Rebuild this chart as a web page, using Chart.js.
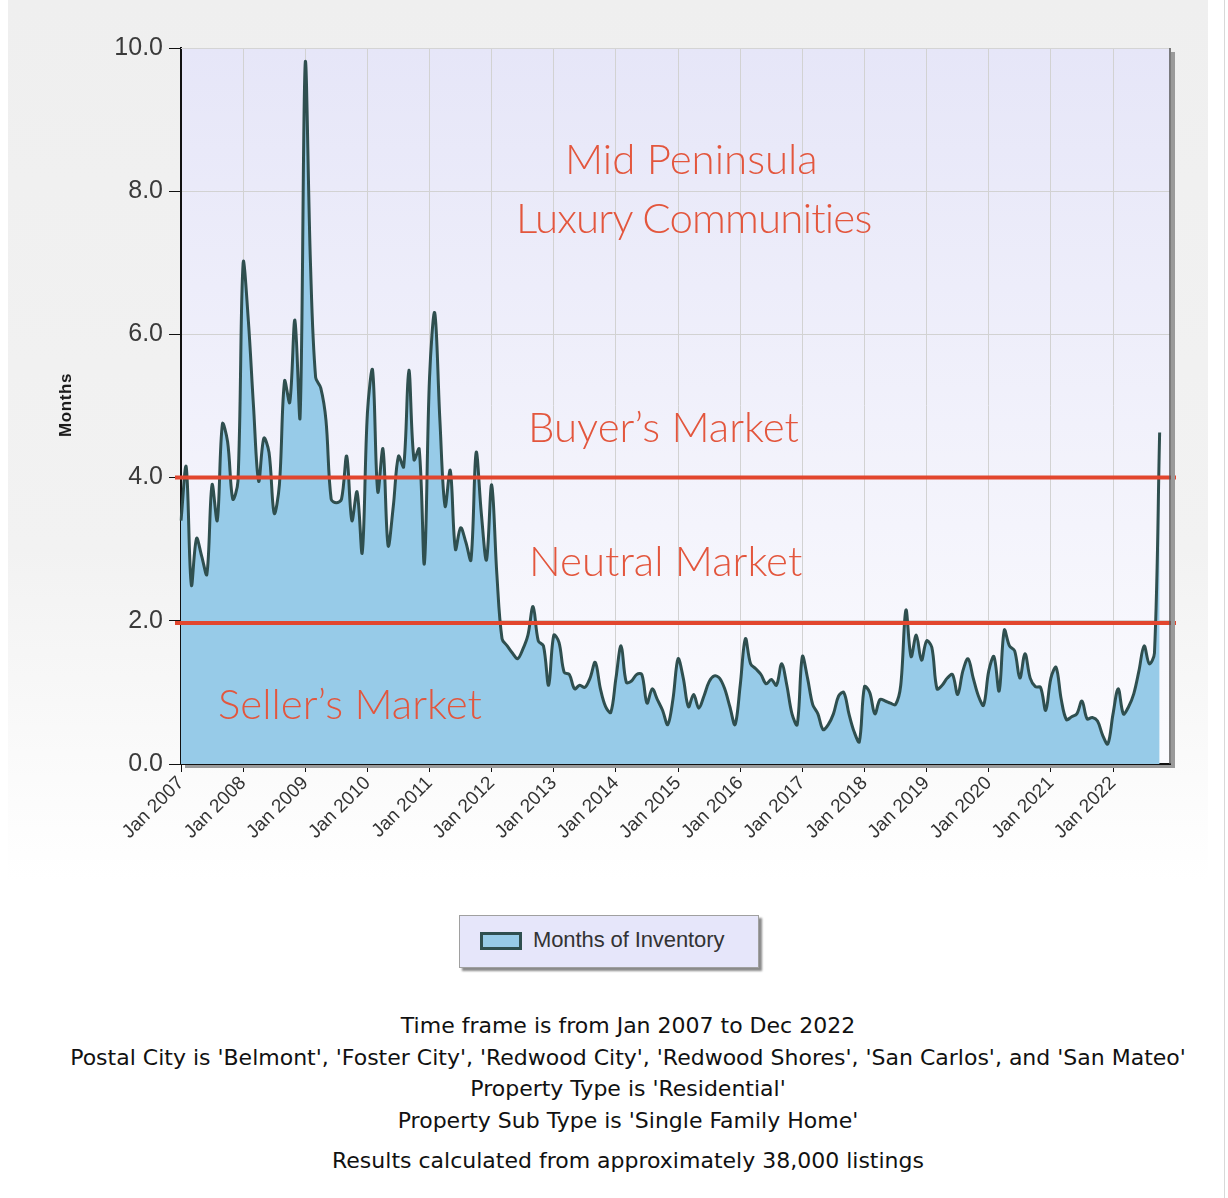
<!DOCTYPE html>
<html>
<head>
<meta charset="utf-8">
<script src="https://cdn.jsdelivr.net/npm/chart.js@4.4.1/dist/chart.umd.min.js"></script>
<style>
  html, body { margin: 0; padding: 0; background: #fff; }
  body { width: 1228px; height: 1198px; position: relative; overflow: hidden; font-family: "Liberation Sans", Arial, sans-serif; }
  #panel { position: absolute; left: 8px; top: 0; width: 1200px; height: 1000px;
    background: linear-gradient(#efefef 0%, #f2f2f2 55%, #ffffff 88%); }
  #edge { position: absolute; left: 1224px; top: 0; width: 1px; height: 1198px; background: #d8d8d8; }
  #chartBox { position: absolute; left: 0; top: 0; width: 1228px; height: 900px; }
  .note { position: absolute; color: #e3563d; font-family: "Lato", sans-serif; font-weight: 300; font-size: 42px; white-space: nowrap; line-height: 1; }
  #ytitle { position: absolute; left: 66px; top: 405px; transform: translate(-50%, -50%) rotate(-90deg); font-size: 17px; font-weight: bold; letter-spacing: 0.6px; color: #1a1a1a; }
  #legend { position: absolute; left: 459px; top: 915px; width: 298px; height: 51px; background: #e6e6fa;
    border: 1px solid #a0a0a0; box-shadow: 3px 3px 2px #8a8a8a; }
  #legend .sw { position: absolute; left: 20px; top: 16px; width: 36px; height: 12px; background: #97cbe8; border: 3px solid #2f4f4f; }
  #legend .txt { position: absolute; left: 73px; top: 11px; font-size: 22px; color: #333; letter-spacing: -0.1px; }
  #footer { position: absolute; left: 0; top: 1010px; width: 1256px; text-align: center; font-family: "DejaVu Sans", Verdana, sans-serif; font-size: 22px; color: #111; line-height: 31.5px; }
  #footer .last { margin-top: 9px; }
</style>
</head>
<body>
<div id="panel"></div>
<div id="edge"></div>
<div id="chartBox"><canvas id="chart" width="1228" height="900"></canvas></div>
<div id="ytitle">Months</div>
<div class="note" style="left:565px; top:137px;">Mid Peninsula</div>
<div class="note" style="left:516px; top:196px; letter-spacing:-0.8px;">Luxury Communities</div>
<div class="note" style="left:528px; top:405px;">Buyer’s Market</div>
<div class="note" style="left:529px; top:539px;">Neutral Market</div>
<div class="note" style="left:218px; top:682px;">Seller’s Market</div>
<div id="legend"><div class="sw"></div><div class="txt">Months of Inventory</div></div>
<div id="footer">
  <div>Time frame is from Jan 2007 to Dec 2022</div>
  <div>Postal City is 'Belmont', 'Foster City', 'Redwood City', 'Redwood Shores', 'San Carlos', and 'San Mateo'</div>
  <div>Property Type is 'Residential'</div>
  <div>Property Sub Type is 'Single Family Home'</div>
  <div class="last">Results calculated from approximately 38,000 listings</div>
</div>
<script>
'use strict';

// Month labels, Jan 2007 .. Dec 2022
var monthNames = ['Jan', 'Feb', 'Mar', 'Apr', 'May', 'Jun', 'Jul', 'Aug', 'Sep', 'Oct', 'Nov', 'Dec'];
var years = [2007, 2008, 2009, 2010, 2011, 2012, 2013, 2014, 2015, 2016, 2017, 2018, 2019, 2020, 2021, 2022];
var monthLabels = [];
years.forEach(function(y) {
  monthNames.forEach(function(m) { monthLabels.push(m + ' ' + y); });
});

// Months of inventory (Jan 2007 .. Oct 2022)
var inv2007 = [3.4, 4.15, 2.5, 3.15, 2.9, 2.65, 3.9, 3.4, 4.75, 4.5, 3.7, 3.95];
var inv2008 = [7.0, 6.2, 5.0, 3.95, 4.55, 4.35, 3.5, 3.9, 5.35, 5.05, 6.2, 4.85];
var inv2009 = [9.8, 7.0, 5.4, 5.25, 4.8, 3.7, 3.65, 3.7, 4.3, 3.4, 3.8, 2.95];
var inv2010 = [4.9, 5.5, 3.8, 4.4, 3.05, 3.6, 4.3, 4.15, 5.5, 4.25, 4.4, 2.8];
var inv2011 = [5.4, 6.3, 4.8, 3.6, 4.1, 3.0, 3.3, 3.1, 2.85, 4.35, 3.5, 2.85];
var inv2012 = [3.9, 2.65, 1.75, 1.65, 1.55, 1.47, 1.6, 1.8, 2.2, 1.72, 1.65, 1.1];
var inv2013 = [1.8, 1.7, 1.28, 1.25, 1.05, 1.1, 1.07, 1.2, 1.42, 1.05, 0.8, 0.72];
var inv2014 = [1.2, 1.65, 1.14, 1.16, 1.25, 1.25, 0.85, 1.05, 0.9, 0.75, 0.55, 0.9];
var inv2015 = [1.47, 1.2, 0.8, 0.97, 0.78, 0.95, 1.15, 1.23, 1.2, 1.05, 0.8, 0.55];
var inv2016 = [1.1, 1.75, 1.4, 1.33, 1.25, 1.12, 1.18, 1.1, 1.4, 1.1, 0.7, 0.55];
var inv2017 = [1.5, 1.2, 0.83, 0.7, 0.48, 0.55, 0.7, 0.95, 1.0, 0.7, 0.45, 0.31];
var inv2018 = [1.08, 1.0, 0.7, 0.9, 0.88, 0.85, 0.83, 1.1, 2.15, 1.5, 1.8, 1.45];
var inv2019 = [1.72, 1.63, 1.05, 1.1, 1.2, 1.25, 0.97, 1.3, 1.47, 1.2, 0.95, 0.82];
var inv2020 = [1.3, 1.5, 1.02, 1.87, 1.65, 1.58, 1.2, 1.54, 1.2, 1.08, 1.07, 0.75];
var inv2021 = [1.2, 1.35, 0.9, 0.62, 0.66, 0.7, 0.88, 0.63, 0.65, 0.6, 0.4, 0.28];
var inv2022 = [0.7, 1.05, 0.7, 0.8, 0.98, 1.3, 1.65, 1.4, 1.55, 4.63];

var inventory = [].concat(inv2007, inv2008, inv2009, inv2010, inv2011, inv2012, inv2013, inv2014,
  inv2015, inv2016, inv2017, inv2018, inv2019, inv2020, inv2021, inv2022);

// Market thresholds (red lines)
var marketLevels = [4.0, 1.97];

var yTicks = [0, 2, 4, 6, 8, 10];

function isJan(c) { return c.index % 12 === 0; }

var plotBackground = {
  id: 'plotBackground',
  beforeDraw: function(chart) {
    var a = chart.chartArea, ctx = chart.ctx;
    var g = ctx.createLinearGradient(0, a.top, 0, a.bottom);
    g.addColorStop(0, '#e6e6f8');
    g.addColorStop(1, '#fbfbfe');
    ctx.save();
    ctx.fillStyle = g;
    ctx.fillRect(a.left, a.top, a.right - a.left, a.bottom - a.top);
    ctx.restore();
  },
  afterDraw: function(chart) {
    var a = chart.chartArea, ctx = chart.ctx;
    ctx.save();
    // top border
    ctx.strokeStyle = '#d4d4d4';
    ctx.lineWidth = 1;
    ctx.beginPath();
    ctx.moveTo(a.left, a.top + 0.5);
    ctx.lineTo(a.right, a.top + 0.5);
    ctx.stroke();
    // right border with shadow
    ctx.fillStyle = '#9a9a9a';
    ctx.fillRect(a.right + 1, a.top + 4, 4, a.bottom - a.top);
    ctx.fillRect(a.left + 4, a.bottom + 1, a.right - a.left, 3);
    ctx.strokeStyle = '#555';
    ctx.lineWidth = 1.5;
    ctx.beginPath();
    ctx.moveTo(a.right, a.top);
    ctx.lineTo(a.right, a.bottom);
    ctx.stroke();
    ctx.restore();
  }
};

var marketLines = {
  id: 'marketLines',
  afterDatasetsDraw: function(chart) {
    var a = chart.chartArea, ctx = chart.ctx, y = chart.scales.y;
    ctx.save();
    ctx.strokeStyle = '#e2462e';
    ctx.lineWidth = 4;
    marketLevels.forEach(function(v) {
      var py = y.getPixelForValue(v);
      ctx.beginPath();
      ctx.moveTo(a.left - 6, py);
      ctx.lineTo(a.right + 6, py);
      ctx.stroke();
    });
    ctx.restore();
  }
};

var ctx = document.getElementById('chart').getContext('2d');
var chart = new Chart(ctx, {
  type: 'line',
  data: {
    labels: monthLabels,
    datasets: [{
      label: 'Months of Inventory',
      data: inventory,
      borderColor: '#2f4f4f',
      borderWidth: 3,
      backgroundColor: '#97cbe8',
      fill: 'origin',
      pointRadius: 0,
      tension: 0.35
    }]
  },
  options: {
    responsive: false,
    animation: false,
    layout: { padding: { left: 0, right: 58, top: 48, bottom: 0 } },
    plugins: {
      legend: { display: false },
      tooltip: { enabled: false }
    },
    scales: {
      x: {
        type: 'category',
        offset: false,
        afterFit: function(s) { s.height = 136; },
        border: { color: '#111', width: 2 },
        grid: {
          color: function(c) { return isJan(c) ? '#d2d2d2' : 'rgba(0,0,0,0)'; },
          tickColor: function(c) { return isJan(c) ? '#111' : 'rgba(0,0,0,0)'; },
          tickLength: 8
        },
        ticks: {
          autoSkip: false,
          maxRotation: 45,
          minRotation: 45,
          padding: 0,
          color: '#333',
          font: { family: 'Liberation Sans', size: 19 },
          callback: function(v, i) { return i % 12 === 0 ? monthLabels[i] : ''; }
        }
      },
      y: {
        min: 0,
        max: 10,
        afterFit: function(s) { s.width = 181; },
        afterBuildTicks: function(s) { s.ticks = yTicks.map(function(v) { return { value: v }; }); },
        border: { color: '#111', width: 2 },
        grid: {
          color: '#d2d2d2',
          tickColor: '#111',
          tickLength: 12
        },
        ticks: {
          padding: 6,
          color: '#3a3a3a',
          font: { family: 'Liberation Sans', size: 25 },
          callback: function(v) { return v.toFixed(1); }
        }
      }
    }
  },
  plugins: [plotBackground, marketLines]
});
</script>
</body>
</html>
